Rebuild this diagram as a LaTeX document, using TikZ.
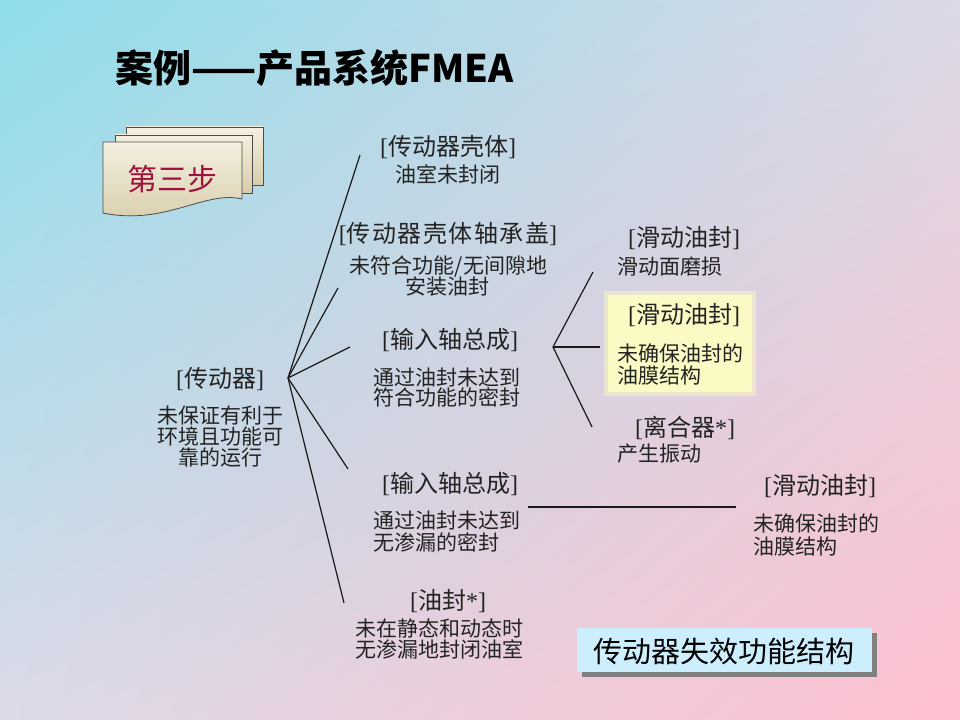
\documentclass[tikz,border=0pt]{standalone}
\usepackage{fontspec}
\usetikzlibrary{shadings}
\newfontfamily\cjk{Noto Sans CJK SC}
\newfontfamily\lat{Liberation Serif}
\newcommand\lbr{{\lat[}}
\newcommand\rbr{{\lat]}}
\newcommand\lst{{\lat*}}
\definecolor{bgTL}{RGB}{142,221,234}
\definecolor{bgTR}{RGB}{220,216,230}
\definecolor{bgBL}{RGB}{220,218,232}
\definecolor{bgBR}{RGB}{255,192,207}
\definecolor{txt}{RGB}{35,35,35}
\definecolor{pageTop}{RGB}{244,240,224}
\definecolor{pageBot}{RGB}{216,204,170}
\definecolor{stepred}{RGB}{160,18,60}
\definecolor{hiyellow}{RGB}{252,250,196}
\definecolor{boxcyan}{RGB}{205,238,252}
\tikzset{
  lab/.style={font=\cjk\fontsize{18}{18}\selectfont, text=txt, inner sep=0pt, anchor=base},
  desc/.style={font=\cjk\fontsize{15.75}{15.75}\selectfont, text=txt, inner sep=0pt, anchor=base},
  descl/.style={desc, anchor=base west},
  conn/.style={line width=0.9pt, draw=black!90},
  pagebox/.style={draw=black!70, line width=0.6pt, top color=pageTop, bottom color=pageBot},
}
\begin{document}
\begin{tikzpicture}[x=0.75pt, y=-0.75pt]
\useasboundingbox (0,0) rectangle (960,720);
\shade[upper left=bgTL, upper right=bgTR, lower left=bgBL, lower right=bgBR] (0,0) rectangle (960,720);

% title
\node[font=\cjk\bfseries\fontsize{28.5}{28.5}\selectfont, anchor=base west, inner sep=0pt, text=black] (title) at (115,83) {案例——产品系统FMEA};

% step scroll icon
\path[pagebox] (126,127) rectangle (263,185);
\path[pagebox] (115,135) rectangle (252,193);
\path[pagebox] (103,142) -- (242,142) -- (242,199) .. controls (205,190) and (165,226) .. (103,213) -- cycle;
\node[font=\cjk\fontsize{22.5}{22.5}\selectfont, text=stepred, inner sep=0pt, anchor=base] (step3) at (172,191) {第三步};

% highlight box
\fill[hiyellow, opacity=0.5] (604,291) rectangle (756,396);
\fill[hiyellow] (608,295) rectangle (752,392);

% bottom right box
\fill[black!50] (582,633) rectangle (877,677);
\fill[boxcyan] (577,628) rectangle (872,672);
\node[font=\cjk\fontsize{21.75}{21.75}\selectfont, text=black, inner sep=0pt, anchor=base] (caption) at (724,662) {传动器失效功能结构};

% root
\node[lab] (root) at (220,387) {\lbr 传动器\rbr};
\node[desc] (rootd1) at (220,423) {未保证有利于};
\node[desc] (rootd2) at (220,444) {环境且功能可};
\node[desc] (rootd3) at (220,465) {靠的运行};

% A
\node[lab] (A) at (448,156) {\lbr 传动器壳体\rbr};
\node[desc] (Ad1) at (448,183) {油室未封闭};
% B
\node[lab] (B) at (448,243) {\addfontfeature{LetterSpace=6}\lbr 传动器壳体轴承盖\rbr};
\node[desc] (Bd1) at (448.5,274) {未符合功能/无间隙地};
\node[desc] (Bd2) at (447,295) {安装油封};
% C
\node[lab] (C) at (450,348) {\lbr 输入轴总成\rbr};
\node[descl] (Cd1) at (373,385) {通过油封未达到};
\node[descl] (Cd2) at (373,405) {符合功能的密封};
% D
\node[lab] (D) at (450,492) {\lbr 输入轴总成\rbr};
\node[descl] (Dd1) at (373,528) {通过油封未达到};
\node[descl] (Dd2) at (373,550) {无渗漏的密封};
% E
\node[lab] (E) at (448,609) {\lbr 油封\lst\rbr};
\node[desc] (Ed1) at (439,636) {未在静态和动态时};
\node[desc] (Ed2) at (439,657) {无渗漏地封闭油室};
% F
\node[lab] (F) at (684,247) {\lbr 滑动油封\rbr};
\node[descl] (Fd1) at (617,275) {滑动面磨损};
% G
\node[lab] (G) at (684,324) {\lbr 滑动油封\rbr};
\node[descl] (Gd1) at (617,361) {未确保油封的};
\node[descl] (Gd2) at (617,383) {油膜结构};
% H
\node[lab] (H) at (685,436) {\lbr 离合器\lst\rbr};
\node[descl] (Hd1) at (617,461) {产生振动};
% I
\node[lab] (I) at (820,494) {\lbr 滑动油封\rbr};
\node[descl] (Id1) at (753,531) {未确保油封的};
\node[descl] (Id2) at (753,554) {油膜结构};

% connectors
\coordinate (hub) at (288,378);
\coordinate (eA) at (360,155);
\coordinate (eB) at (338,288);
\coordinate (eC) at (350,347);
\coordinate (eD) at (348,469);
\coordinate (eE) at (344,603);
\draw[conn] (hub) -- (eA);
\draw[conn] (hub) -- (eB);
\draw[conn] (hub) -- (eC);
\draw[conn] (hub) -- (eD);
\draw[conn] (hub) -- (eE);

\coordinate (fork) at (553,347);
\coordinate (eF) at (593,272);
\coordinate (eG) at (600,347);
\coordinate (eH) at (592,427);
\draw[conn] (fork) -- (eF);
\draw[conn] (fork) -- (eG);
\draw[conn] (fork) -- (eH);

\coordinate (hL) at (528,507);
\coordinate (hR) at (736,507);
\draw[conn] (hL) -- (hR);
\end{tikzpicture}
\end{document}
